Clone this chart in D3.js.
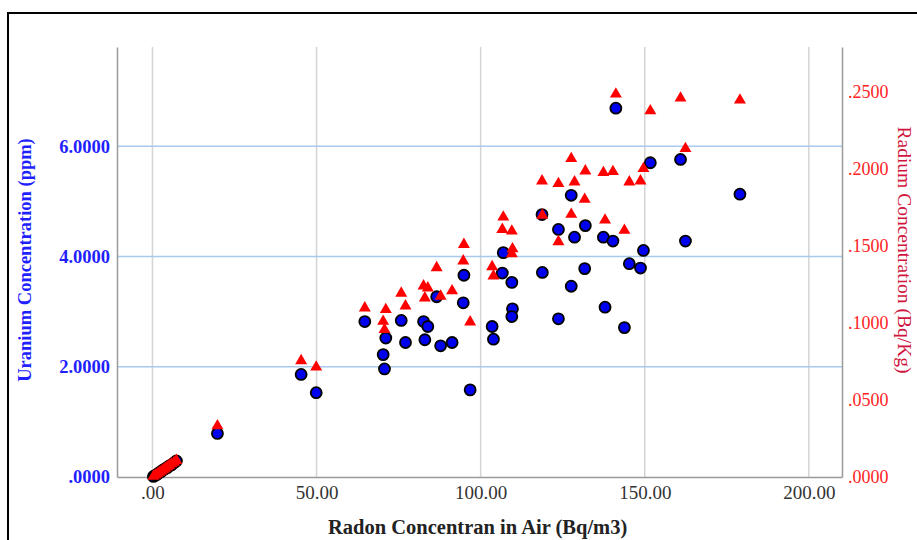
<!DOCTYPE html>
<html>
<head>
<meta charset="utf-8">
<script src="https://cdn.jsdelivr.net/npm/d3@7"></script>
<style>
  body { margin: 0; background: #fff; }
  svg { display: block; font-family: "Liberation Serif", "DejaVu Serif", serif; }
</style>
</head>
<body>
<div id="chart"></div>
<script>
// radon in air (Bq/m3), uranium (ppm) and radium (Bq/Kg) per sample
const radon = [141.2, 151.7, 160.9, 179.0, 162.4, 127.6, 131.9, 137.4, 140.3, 149.6,
  148.7, 145.3, 118.7, 118.8, 123.7, 123.7, 128.6, 127.6, 131.7, 137.9,
  143.8, 106.9, 106.6, 109.5, 109.7, 109.5, 103.5, 103.9, 94.9, 94.7,
  96.8, 86.6, 87.8, 91.3, 82.6, 83.9, 83.0, 75.8, 77.1, 64.7,
  71.1, 70.3, 70.7, 45.3, 49.9, 19.8,
  0.3, 0.9, 1.5, 2.1, 2.7, 3.3, 3.9, 4.5, 5.1, 5.8, 6.6, 7.3]
const uranium = [6.69, 5.70, 5.76, 5.13, 4.28, 5.11, 4.56, 4.35, 4.28, 4.11,
  3.79, 3.87, 4.76, 3.71, 4.49, 2.87, 4.35, 3.46, 3.78, 3.08,
  2.71, 4.07, 3.70, 3.53, 3.05, 2.91, 2.73, 2.50, 3.66, 3.16,
  1.58, 3.27, 2.38, 2.44, 2.82, 2.73, 2.49, 2.84, 2.44, 2.82,
  2.52, 2.22, 1.96, 1.86, 1.53, 0.79,
  0.01, 0.03, 0.05, 0.08, 0.10, 0.13, 0.15, 0.17, 0.20, 0.22, 0.26, 0.29]
const radium = [0.2487, 0.2378, 0.2461, 0.2448, 0.2133, 0.2068, 0.1988, 0.1977, 0.1984, 0.2003,
  0.1923, 0.1916, 0.1923, 0.1700, 0.1906, 0.1528, 0.1916, 0.1706, 0.1803, 0.1669,
  0.1602, 0.1688, 0.1608, 0.1597, 0.1482, 0.1450, 0.1366, 0.1306, 0.1510, 0.1403,
  0.1007, 0.1359, 0.1174, 0.1209, 0.1241, 0.1228, 0.1163, 0.1194, 0.1111, 0.1098,
  0.1087, 0.1011, 0.0957, 0.0755, 0.0714, 0.0332,
  0.0004, 0.0012, 0.0020, 0.0030, 0.0038, 0.0047, 0.0056, 0.0066, 0.0075, 0.0085, 0.0095, 0.0107]

const xTicks = [0, 50, 100, 150, 200]
const uTicks = [0, 2, 4, 6]
const raTicks = [0, 0.05, 0.10, 0.15, 0.20, 0.25]

const W = 917, H = 540
const plot = {left: 117, right: 842, top: 47, bottom: 477}

const svg = d3.select('#chart').append('svg')
  .attr('width', W).attr('height', H)

// outer frame
svg.append('rect')
  .attr('x', 8).attr('y', 13).attr('width', 930).attr('height', 560)
  .attr('fill', 'none').attr('stroke', '#000').attr('stroke-width', 2)

const x = d3.scaleLinear().domain([-10.8, 210.1]).range([plot.left, plot.right])
const yU = d3.scaleLinear().domain([0, 7.8]).range([plot.bottom, plot.top])
const yR = d3.scaleLinear().domain([0, 0.2793]).range([plot.bottom, plot.top])

// vertical grid
svg.append('g').selectAll('line').data(xTicks).enter().append('line')
  .attr('x1', d => x(d)).attr('x2', d => x(d))
  .attr('y1', plot.top).attr('y2', plot.bottom)
  .attr('stroke', '#d4d4d4').attr('stroke-width', 1.5)

// horizontal grid from uranium axis
svg.append('g').selectAll('line').data(uTicks.filter(d => d > 0)).enter().append('line')
  .attr('x1', plot.left).attr('x2', plot.right)
  .attr('y1', d => yU(d)).attr('y2', d => yU(d))
  .attr('stroke', '#a9c8ee').attr('stroke-width', 1.5)

// axes
const xAxis = svg.append('g')
  .attr('transform', 'translate(0,' + plot.bottom + ')')
  .call(d3.axisBottom(x).tickValues(xTicks).tickSize(0).tickPadding(9)
    .tickFormat(d => d === 0 ? '.00' : d3.format('.2f')(d)))
const uAxis = svg.append('g')
  .attr('transform', 'translate(' + plot.left + ',0)')
  .call(d3.axisLeft(yU).tickValues(uTicks).tickSize(0).tickPadding(7)
    .tickFormat(d => d3.format('.4f')(d).replace(/^0/, '')))
const rAxis = svg.append('g')
  .attr('transform', 'translate(' + plot.right + ',0)')
  .call(d3.axisRight(yR).tickValues(raTicks).tickSize(0).tickPadding(6)
    .tickFormat(d => d3.format('.4f')(d).replace(/^0/, '')))

;[xAxis, uAxis, rAxis].forEach(a => {
  a.select('.domain').attr('stroke', '#9a9a9a').attr('stroke-width', 1.5)
  a.selectAll('text').attr('font-family', '"Liberation Serif", serif')
})
xAxis.selectAll('text').attr('font-size', 19).attr('fill', '#333')
uAxis.selectAll('text').attr('font-size', 18.5).attr('font-weight', 'bold').attr('fill', '#1f1fff')
rAxis.selectAll('text').attr('font-size', 18).attr('fill', '#ff2323')

// titles
svg.append('text')
  .attr('x', (x(0) + x(200)) / 2 - 3).attr('y', 534)
  .attr('text-anchor', 'middle').attr('font-size', 20.5).attr('font-weight', 'bold')
  .attr('fill', '#222').text('Radon Concentran in Air (Bq/m3)')
svg.append('text')
  .attr('transform', 'translate(31,' + 260 + ') rotate(-90)')
  .attr('text-anchor', 'middle').attr('font-size', 18.5).attr('font-weight', 'bold')
  .attr('fill', '#1f1fff').text('Uranium Concentration (ppm)')
svg.append('text')
  .attr('transform', 'translate(898,' + 250 + ') rotate(90)')
  .attr('text-anchor', 'middle').attr('font-size', 19.5)
  .attr('fill', '#d0163e').text('Radium Concentration (Bq/Kg)')

// uranium points
svg.append('g').selectAll('circle').data(d3.range(radon.length)).enter().append('circle')
  .attr('cx', i => x(radon[i])).attr('cy', i => yU(uranium[i]))
  .attr('r', 5.5)
  .attr('fill', '#0000f0').attr('stroke', '#000').attr('stroke-width', 1.8)

// radium points
const tri = d3.symbol().type(d3.symbolTriangle).size(62)
svg.append('g').selectAll('path').data(d3.range(radon.length)).enter().append('path')
  .attr('d', tri)
  .attr('transform', i => 'translate(' + x(radon[i]) + ',' + yR(radium[i]) + ')')
  .attr('fill', '#ff0000')
</script>
</body>
</html>
